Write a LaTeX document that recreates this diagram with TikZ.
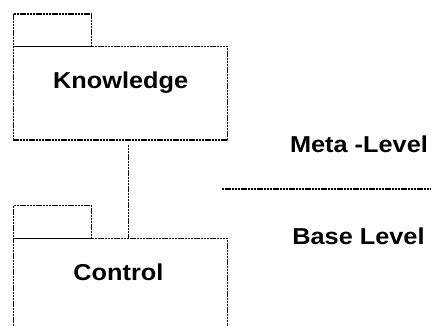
\documentclass[tikz,border=0pt]{standalone}
\usepackage{fontspec}
\setmainfont{Liberation Sans}[FakeStretch=1.1]
\begin{document}
\begin{tikzpicture}[x=1pt,y=-1pt,
  dotline/.style={line width=1.4pt, dash pattern=on 2.4pt off 0.8pt},
  pkgbox/.style={draw, dotline, anchor=north west, inner sep=0pt},
  label/.style={font=\bfseries\fontsize{23}{27}\selectfont, anchor=base, inner sep=0pt}]
  \clip (0,0) rectangle (431,326);
  \fill[white] (0,0) rectangle (431,326);

  % Knowledge package (meta level)
  \node[pkgbox, minimum width=78pt, minimum height=32.5pt] (ktab) at (12.5,13.2) {};
  \node[pkgbox, minimum width=214.5pt, minimum height=93.5pt] (know) at (12.5,45.7) {};
  \node[label] (ktext) at (120.7,88.3) {Knowledge};

  % Control package (base level)
  \node[pkgbox, minimum width=78pt, minimum height=32.5pt] (ctab) at (12.5,205) {};
  \node[pkgbox, minimum width=214.5pt, minimum height=100pt] (ctrl) at (12.5,237.5) {};
  \node[label] (ctext) at (118.4,280) {Control};

  % dependency between the two packages
  \draw[dotline] ([xshift=8.25pt,yshift=-4pt]know.south) -- ([xshift=8.25pt]ctrl.north);

  % level separator
  \coordinate (sepL) at (222,189);
  \coordinate (sepR) at (431,189);
  \draw[dotline] (sepL) -- (sepR);
  \node[label] (meta) at (359,153) {Meta -Level};
  \node[label] (base) at (358.5,244) {Base Level};
\end{tikzpicture}
\end{document}
